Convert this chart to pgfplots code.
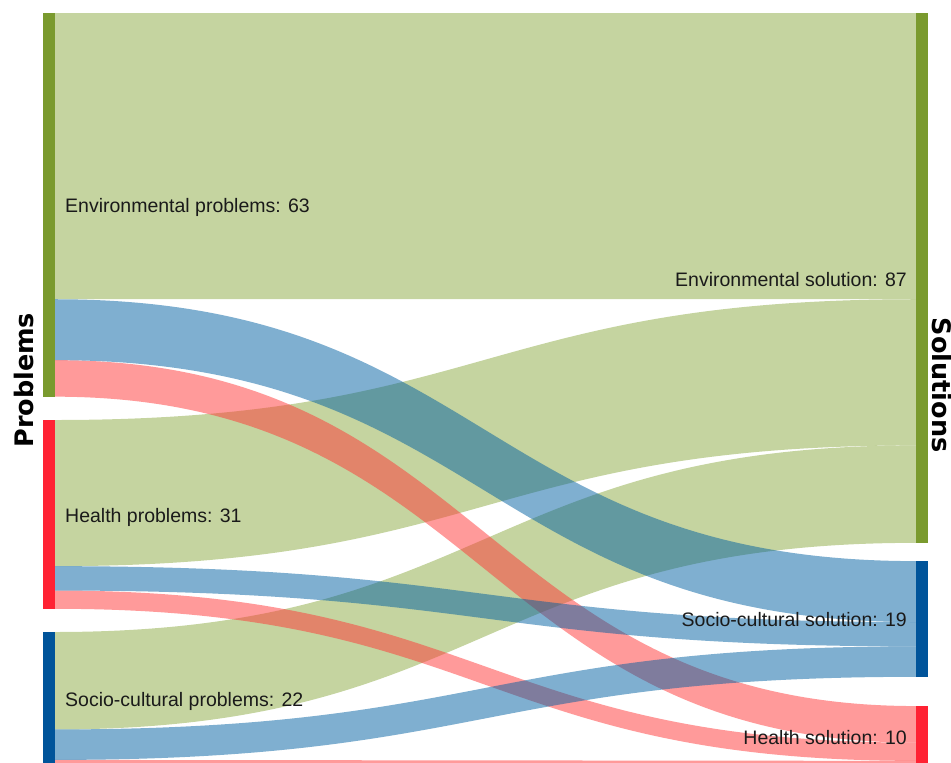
\documentclass[border=0pt]{standalone}
\usepackage{pgfplots}
\pgfplotsset{compat=1.18}
\usepackage{fontspec}
\setmainfont{Liberation Sans}
\newfontfamily\titlefont{DejaVu Sans}
\definecolor{gbar}{RGB}{122,154,46}
\definecolor{rbar}{RGB}{255,34,51}
\definecolor{bbar}{RGB}{0,84,154}
\definecolor{gflow}{RGB}{139,169,65}
\definecolor{bflow}{RGB}{0,95,161}
\definecolor{rflow}{RGB}{255,53,53}
\definecolor{lbl}{RGB}{26,26,26}
% flow: color, left top, left bottom, right top, right bottom (value units)
\newcommand{\flow}[5]{%
  \fill[#1, fill opacity=0.5]
    (axis cs:55,#2) .. controls (axis cs:485.5,#2) and (axis cs:485.5,#4) .. (axis cs:916,#4)
    -- (axis cs:916,#5) .. controls (axis cs:485.5,#5) and (axis cs:485.5,#3) .. (axis cs:55,#3) -- cycle;}
\begin{document}
\begin{tikzpicture}
\useasboundingbox (0,0) rectangle (951pt,763pt);
\clip (0,0) rectangle (951pt,763pt);
\begin{axis}[
  at={(0,0)}, anchor=south west,
  width=951pt, height=763pt, scale only axis,
  hide axis, clip=true,
  xmin=0, xmax=951,
  ymin=-2.135, ymax=123.15, y dir=reverse,
]
% green flows (to Environmental solution)
\flow{gflow}{0}{47}{0}{47}
\flow{gflow}{66.83}{90.83}{47}{71}
\flow{gflow}{101.64}{117.64}{71}{87}
% red flows (to Health solution)
\flow{rflow}{57}{63}{113.8}{119.8}
\flow{rflow}{94.83}{97.83}{119.8}{122.8}
\flow{rflow}{122.64}{123.64}{122.8}{123.8}
% blue flows (to Socio-cultural solution)
\flow{bflow}{47}{57}{90}{100}
\flow{bflow}{90.83}{94.83}{100}{104}
\flow{bflow}{117.64}{122.64}{104}{109}
% node bars
\addplot[fill=gbar, draw=none] coordinates {(43,0) (55,0) (55,63) (43,63)} -- cycle;
\addplot[fill=rbar, draw=none] coordinates {(43,66.83) (55,66.83) (55,97.83) (43,97.83)} -- cycle;
\addplot[fill=bbar, draw=none] coordinates {(43,101.64) (55,101.64) (55,123.64) (43,123.64)} -- cycle;
\addplot[fill=gbar, draw=none] coordinates {(916,0) (928,0) (928,87) (916,87)} -- cycle;
\addplot[fill=bbar, draw=none] coordinates {(916,90) (928,90) (928,109) (916,109)} -- cycle;
\addplot[fill=rbar, draw=none] coordinates {(916,113.8) (928,113.8) (928,123.8) (916,123.8)} -- cycle;
% labels
\begin{scope}[every node/.style={text=lbl, font=\fontsize{19.5}{23}\selectfont, inner sep=0pt}]
\node[anchor=west] at (axis cs:65,32.0) {Environmental problems: 63};
\node[anchor=west] at (axis cs:65,82.9) {Health problems: 31};
\node[anchor=west] at (axis cs:65,113.1) {Socio-cultural problems: 22};
\node[anchor=east] at (axis cs:907,43.7) {Environmental solution: 87};
\node[anchor=east] at (axis cs:907,99.6) {Socio-cultural solution: 19};
\node[anchor=east] at (axis cs:907,118.9) {Health solution: 10};
\end{scope}
\node[rotate=90, inner sep=0pt, font=\titlefont\bfseries\fontsize{25.5}{30}\selectfont] at (axis cs:24,60.3) {Problems};
\node[rotate=-90, inner sep=0pt, font=\titlefont\bfseries\fontsize{25.5}{30}\selectfont] at (axis cs:942,61.1) {Solutions};
\end{axis}
\end{tikzpicture}
\end{document}
